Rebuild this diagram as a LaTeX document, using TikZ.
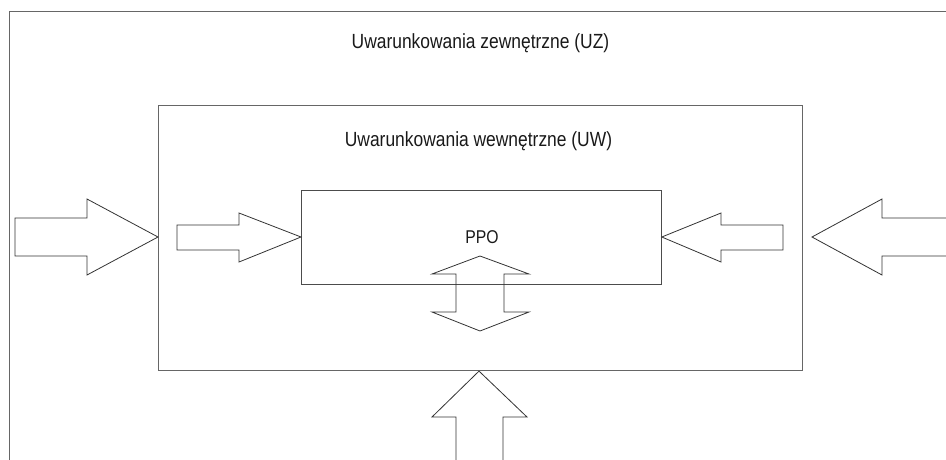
\documentclass[tikz,border=0pt]{standalone}
\usepackage{fontspec}
\setmainfont[FakeStretch=0.85]{Liberation Sans}
\begin{document}
\begin{tikzpicture}[x=1pt,y=-1pt,
  outerframe/.style={draw=black!60,line width=1.4pt},
  midframe/.style={draw=black!60,line width=1.1pt},
  innerframe/.style={draw=black!70,line width=0.8pt},
  blockarrow/.style={draw=black!80,line width=0.8pt,line join=miter,fill=none},
  label/.style={font=\fontsize{20.5}{24}\selectfont,text=black!90,inner sep=0pt,anchor=base}]
\useasboundingbox (0,0) rectangle (946,459);
\clip (0,0) rectangle (946,459);

% frames: surroundings, organisation, core unit
\node (uz) [outerframe,anchor=north west,minimum width=960pt,minimum height=470pt,inner sep=0pt] at (9,11) {};
\node (uw) [midframe,anchor=north west,minimum width=644pt,minimum height=265pt,inner sep=0pt] at (158,105) {};
\node (ppo) [innerframe,anchor=north west,minimum width=360pt,minimum height=94pt,inner sep=0pt] at (301,190) {};

% captions
\node (tuz) [label] at (480.5,48) {Uwarunkowania zewnętrzne (UZ)};
\node (tuw) [label] at (478.5,146) {Uwarunkowania wewnętrzne (UW)};
\node (tppo) [label,font=\fontsize{18.5}{22}\selectfont] at (482,243) {PPO};

% influence arrows from the left
\draw[blockarrow] (15,218) -- (87,218) -- (87,199) -- (uw.west |- 0,237) -- (87,275) -- (87,256) -- (15,256) -- cycle;
\draw[blockarrow] (177,225) -- (239,225) -- (239,213) -- (ppo.west |- 0,237) -- (239,262) -- (239,250) -- (177,250) -- cycle;

% influence arrows from the right
\draw[blockarrow] (783,225) -- (721,225) -- (721,213) -- (ppo.east |- 0,237) -- (721,262) -- (721,250) -- (783,250) -- cycle;
\draw[blockarrow] (960,218) -- (882,218) -- (882,199) -- (812,237) -- (882,275) -- (882,256) -- (960,256);

% two-way exchange across the lower edge of the core unit
\draw[blockarrow] (480,256) -- (529,274) -- (504,274) -- (504,312) -- (529,312) -- (480,331)
  -- (432,312) -- (456,312) -- (456,274) -- (432,274) -- cycle;

% arrow rising from below into the organisation
\draw[blockarrow] (456,470) -- (456,417) -- (432,417) -- (uw.south -| 479,0) -- (527,417) -- (503,417) -- (503,470);
\end{tikzpicture}
\end{document}
